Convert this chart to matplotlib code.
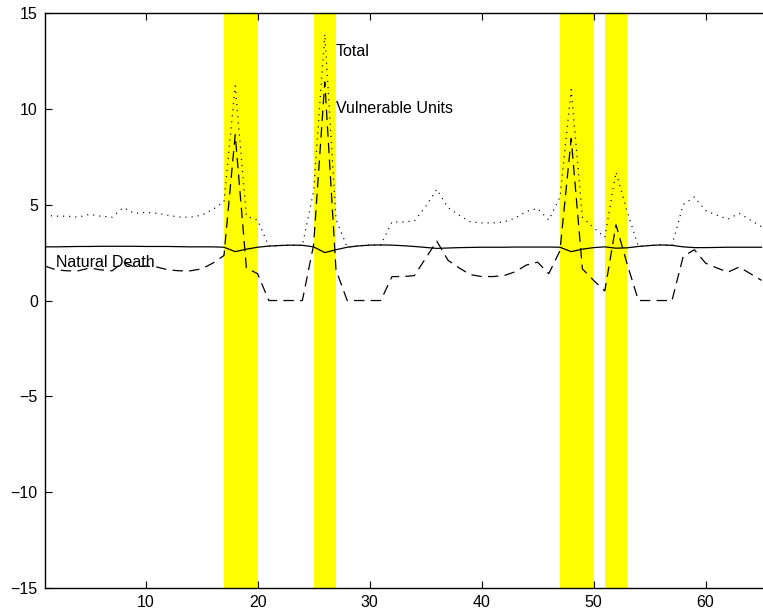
import matplotlib
matplotlib.use("Agg")
import matplotlib.pyplot as plt
import numpy as np

plt.rcParams['font.family'] = ['Liberation Sans', 'DejaVu Sans']
plt.rcParams['lines.scale_dashes'] = False

# periods 1..65
periods = np.arange(1, 66)

natural_death = [2.80, 2.80, 2.81, 2.82, 2.82, 2.83, 2.83, 2.83, 2.83, 2.82,
                 2.82, 2.82, 2.81, 2.80, 2.80, 2.80, 2.78, 2.55, 2.68, 2.78,
                 2.84, 2.87, 2.89, 2.88, 2.80, 2.50, 2.65, 2.78, 2.85, 2.89,
                 2.90, 2.89, 2.86, 2.82, 2.77, 2.72, 2.74, 2.76, 2.77, 2.78,
                 2.78, 2.78, 2.79, 2.79, 2.79, 2.79, 2.78, 2.55, 2.68, 2.76,
                 2.80, 2.73, 2.75, 2.82, 2.87, 2.90, 2.88, 2.80, 2.76, 2.76,
                 2.77, 2.78, 2.78, 2.78, 2.78]

vulnerable = [1.80, 1.60, 1.55, 1.55, 1.70, 1.60, 1.55, 2.00, 1.75, 1.80,
              1.75, 1.60, 1.55, 1.55, 1.65, 1.95, 2.35, 8.65, 1.70, 1.40,
              0.00, 0.00, 0.00, 0.00, 2.90, 11.40, 1.60, 0.00, 0.00, 0.00,
              0.00, 1.25, 1.25, 1.30, 2.20, 3.10, 2.10, 1.70, 1.35, 1.25,
              1.25, 1.30, 1.50, 1.85, 2.00, 1.40, 2.60, 8.45, 1.65, 1.05,
              0.50, 3.95, 1.90, 0.00, 0.00, 0.00, 0.00, 2.30, 2.65, 1.95,
              1.70, 1.48, 1.75, 1.40, 1.05]

total = [4.45, 4.40, 4.40, 4.35, 4.50, 4.40, 4.35, 4.85, 4.55, 4.60,
         4.55, 4.45, 4.35, 4.35, 4.45, 4.75, 5.15, 11.20, 4.40, 4.20,
         2.84, 2.87, 2.89, 2.88, 5.70, 13.90, 4.25, 2.78, 2.85, 2.89,
         2.90, 4.10, 4.10, 4.15, 4.90, 5.80, 4.85, 4.45, 4.10, 4.05,
         4.05, 4.10, 4.30, 4.65, 4.80, 4.20, 5.40, 11.00, 4.35, 3.80,
         3.30, 6.70, 4.65, 2.82, 2.87, 2.90, 2.88, 5.00, 5.40, 4.70,
         4.45, 4.25, 4.55, 4.20, 3.85]

# shaded periods (start, end)
shaded = [(17, 20), (25, 27), (47, 50), (51, 53)]

fig = plt.figure(figsize=(7.63, 6.14), dpi=100)
ax = fig.add_axes([0.0587, 0.0423, 0.9413, 0.9365])

for s, e in shaded:
    ax.axvspan(s, e, color='#ffff00', lw=0, zorder=1)

ax.plot(periods, natural_death, color='black', lw=0.9, zorder=3)
ax.plot(periods, vulnerable, color='black', lw=0.9, linestyle=(0, (7.5, 4.5)), zorder=3)
ax.plot(periods, total, color='black', lw=0.9, linestyle=(0, (0.8, 3.6)), zorder=3)

ax.text(27, 13, 'Total', fontsize=11.5, va='center', ha='left')
ax.text(27, 10, 'Vulnerable Units', fontsize=11.5, va='center', ha='left')
ax.text(2, 2, 'Natural Death', fontsize=11.5, va='center', ha='left')

ax.set_xlim(1, 1 + 718.2 / 11.2)
ax.set_ylim(-15, 15)
ax.set_xticks([10, 20, 30, 40, 50, 60])
ax.set_yticks([-15, -10, -5, 0, 5, 10, 15])
ax.tick_params(direction='in', length=5, width=0.8, labelsize=11.5, pad=5,
               top=True, right=False)
ax.spines['right'].set_visible(False)
for sp in ['left', 'bottom', 'top']:
    ax.spines[sp].set_linewidth(1.0)

fig.savefig('out.png', dpi=100)
